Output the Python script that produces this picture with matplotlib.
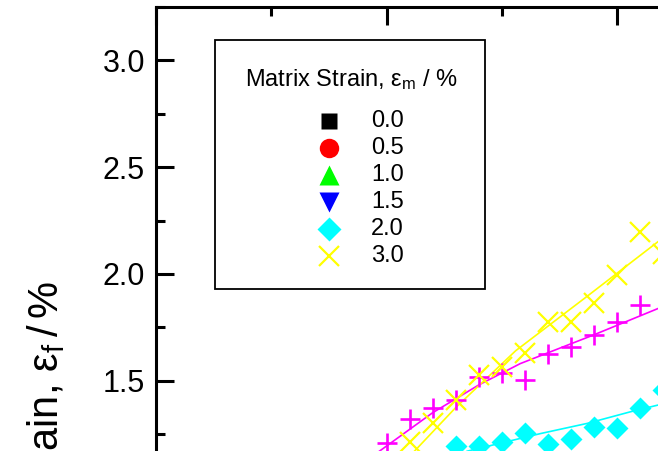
import matplotlib
matplotlib.use("Agg")
import matplotlib.pyplot as plt
from matplotlib.ticker import MultipleLocator, FormatStrFormatter
from matplotlib.patches import Rectangle

plt.rcParams["font.family"] = ["Liberation Sans", "DejaVu Sans"]
plt.rcParams["mathtext.fontset"] = "custom"
plt.rcParams["mathtext.rm"] = "Liberation Sans"

# ---- data -------------------------------------------------------------
# matrix strain 3.0 % (yellow crosses)
x_30 = [1.1, 1.2, 1.3, 1.4, 1.5, 1.6, 1.7, 1.8, 1.9, 2.0, 2.1, 2.2]
y_30 = [1.214, 1.300, 1.410, 1.527, 1.566, 1.628, 1.776, 1.776, 1.862, 1.995, 2.198, 2.093]
fit30_x = [1.10, 1.30, 1.56, 1.87, 2.25]
fit30_y = [1.146, 1.374, 1.640, 1.895, 2.211]

# magenta plus series
x_25 = [1.0, 1.1, 1.2, 1.3, 1.4, 1.5, 1.6, 1.7, 1.8, 1.9, 2.0, 2.1]
y_25 = [1.207, 1.319, 1.371, 1.410, 1.519, 1.537, 1.503, 1.625, 1.659, 1.714, 1.776, 1.854]
fit25_x = [0.95, 1.20, 1.40, 1.58, 1.90, 2.25]
fit25_y = [1.155, 1.350, 1.480, 1.580, 1.715, 1.870]

# matrix strain 2.0 % (cyan diamonds)
x_20 = [1.3, 1.4, 1.5, 1.6, 1.7, 1.8, 1.9, 2.0, 2.1, 2.2]
y_20 = [1.192, 1.192, 1.211, 1.257, 1.204, 1.226, 1.285, 1.277, 1.371, 1.457]
fit20_x = [1.35, 1.67, 1.87, 2.06, 2.25]
fit20_y = [1.170, 1.253, 1.300, 1.355, 1.405]

# legend entries
legend_labels = ["0.0", "0.5", "1.0", "1.5", "2.0", "3.0"]
legend_markers = ["s", "o", "^", "v", "D", "x"]
legend_colors = ["#000000", "#ff0000", "#00ff00", "#0000ff", "#00ffff", "#ffff00"]
legend_sizes = [12, 14, 15, 15, 12, 15]

# ---- figure -----------------------------------------------------------
W, H = 658, 451
fig = plt.figure(figsize=(W / 100, H / 100), dpi=100)

# axes frame in pixels (x: 0..4, y: 1.0..3.25)
left_px, unit_x = 156.0, 230.5
top_px, y3_px, unit_y = 7.0, 60.3, 213.6
right_px = left_px + 4 * unit_x
bottom_px = y3_px + 2 * unit_y
ax = fig.add_axes([left_px / W, 1 - bottom_px / H,
                   (right_px - left_px) / W, (bottom_px - top_px) / H])
ax.set_xlim(0, 4)
ax.set_ylim(1.0, 3.25)

for sp in ax.spines.values():
    sp.set_linewidth(2.2)

ax.xaxis.set_major_locator(MultipleLocator(1.0))
ax.xaxis.set_minor_locator(MultipleLocator(0.5))
ax.yaxis.set_major_locator(MultipleLocator(0.5))
ax.yaxis.set_minor_locator(MultipleLocator(0.25))
ax.yaxis.set_major_formatter(FormatStrFormatter("%.1f"))
ax.tick_params(which="both", direction="in", top=True, right=True,
               width=2.2, labelsize=22, pad=8, labelbottom=False)
ax.tick_params(which="major", length=13)
ax.tick_params(which="minor", length=6.5)

# fitted curves
ax.plot(fit20_x, fit20_y, color="#00ffff", lw=1.2, zorder=2)
ax.plot(fit25_x, fit25_y, color="#ff00ff", lw=1.2, zorder=2)
ax.plot(fit30_x, fit30_y, color="#ffff00", lw=1.2, zorder=2)

# measured points
ax.plot(x_20, y_20, ls="none", marker="D", ms=11.5, color="#00ffff",
        mec="none", zorder=3)
ax.plot(x_25, y_25, ls="none", marker="+", ms=15, mew=1.9, color="#ff00ff",
        zorder=3)
ax.plot(x_30, y_30, ls="none", marker="x", ms=15, mew=1.6, color="#ffff00",
        zorder=3)

# y axis title
fig.text(46 / W, 1 - 281 / H,
         "Fiber Strain, $\\mathregular{ε_f\\,/\\,\\%}$",
         rotation=90, ha="center", va="top", fontsize=30)

# legend box
def fx(px):
    return px / W


def fy(py):
    return 1 - py / H


box = Rectangle((fx(215), fy(289)), fx(485) - fx(215), fy(40) - fy(289),
                transform=fig.transFigure, fill=True, facecolor="white",
                edgecolor="black", lw=1.3, zorder=5)
fig.add_artist(box)
fig.text(fx(351), fy(80), "Matrix Strain, $\\mathregular{ε_m}$ / %",
         ha="center", va="center", fontsize=17, zorder=6)
row0, row_step = 120.7, 27.0
for i, (lab, mk, col, ms) in enumerate(zip(legend_labels, legend_markers,
                                           legend_colors, legend_sizes)):
    yy = row0 + i * row_step
    kw = dict(mew=1.6) if mk == "x" else dict(mec="none")
    ln = matplotlib.lines.Line2D([fx(329)], [fy(yy)], ls="none", marker=mk,
                                 ms=ms, color=col, transform=fig.transFigure,
                                 zorder=6, **kw)
    fig.add_artist(ln)
    fig.text(fx(371), fy(yy), lab, ha="left", va="center", fontsize=17,
             zorder=6)

fig.savefig("out.png", dpi=100)
